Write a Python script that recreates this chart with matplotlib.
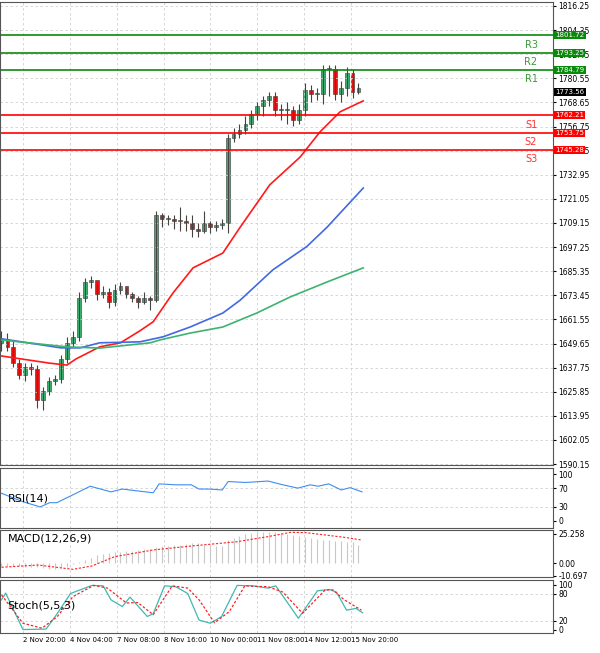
import numpy as np
import matplotlib.pyplot as plt

# 4H candles
opens = [1650, 1652, 1648, 1640, 1634, 1638, 1637, 1622, 1626, 1631, 1632, 1642, 1650, 1653,
         1672, 1680, 1681, 1674, 1675, 1670, 1676, 1678, 1674, 1672, 1670, 1672, 1671, 1713,
         1711, 1711, 1710, 1710, 1709, 1706, 1705, 1709, 1707, 1708, 1709, 1751, 1753, 1755,
         1758, 1763, 1767, 1770, 1772, 1765, 1765, 1765, 1760, 1765, 1775, 1773, 1773, 1785,
         1785, 1773, 1776, 1783, 1774]
closes = [1652, 1648, 1640, 1634, 1638, 1637, 1622, 1626, 1631, 1632, 1642, 1650, 1653, 1672,
          1680, 1681, 1674, 1675, 1670, 1676, 1678, 1674, 1672, 1670, 1672, 1671, 1713, 1711,
          1711, 1710, 1710, 1709, 1706, 1705, 1709, 1707, 1708, 1709, 1751, 1753, 1755, 1758,
          1763, 1767, 1770, 1772, 1765, 1765, 1765, 1760, 1765, 1775, 1773, 1773, 1785, 1785,
          1773, 1776, 1783, 1774, 1776]
highs = [1656, 1655, 1651, 1642, 1640, 1640, 1639, 1628, 1633, 1634, 1644, 1653, 1656, 1675,
         1682, 1683, 1679, 1678, 1677, 1679, 1680, 1677, 1675, 1673, 1675, 1673, 1715, 1714,
         1713, 1713, 1717, 1713, 1713, 1709, 1715, 1710, 1710, 1711, 1753, 1756, 1758, 1762,
         1765, 1769, 1772, 1774, 1774, 1768, 1769, 1767, 1768, 1778, 1777, 1776, 1787, 1787,
         1787, 1779, 1786, 1785, 1778]
lows = [1646, 1646, 1638, 1632, 1631, 1634, 1618, 1617, 1624, 1629, 1630, 1640, 1648, 1651,
        1670, 1677, 1671, 1672, 1667, 1668, 1674, 1672, 1670, 1667, 1669, 1666, 1670, 1707,
        1708, 1706, 1705, 1705, 1702, 1702, 1704, 1704, 1705, 1706, 1704, 1749, 1751, 1753,
        1756, 1760, 1762, 1767, 1762, 1760, 1758, 1757, 1758, 1762, 1769, 1770, 1768, 1772,
        1770, 1769, 1772, 1771, 1773]

# moving averages, read as (bar index, value)
ma_red_x = [0, 8, 11, 12.5, 16.5, 20, 23.3, 25.5, 28.8, 32.2, 37.2, 40.1, 45.1, 50.2, 53.5, 56.9, 60.8]
ma_red_y = [1643.5, 1640, 1639, 1642, 1648, 1650, 1656, 1660.4, 1674.5, 1687, 1694.3, 1707,
            1728, 1741.7, 1754, 1764, 1769.4]
ma_blue_x = [0, 10, 13.2, 16.5, 23.3, 27.2, 31.7, 37.2, 40.1, 45.6, 51.3, 54.7, 60.8]
ma_blue_y = [1652, 1647.5, 1647.5, 1650, 1650.5, 1653, 1657.8, 1664.7, 1671, 1686, 1697.5,
             1707, 1726.4]
ma_green_x = [0, 11, 16.5, 25, 26.6, 31.7, 37.2, 42.9, 48.5, 54.7, 60.8]
ma_green_y = [1651.4, 1648, 1647.4, 1650, 1651.4, 1654.8, 1657.8, 1664.7, 1672.6, 1680, 1687]

rsi_x = [0, 3.6, 6.5, 8.1, 9.3, 12.7, 14.9, 18.4, 20.3, 25.5, 26.5, 29.3, 31.9, 33.2, 35,
         37.1, 38.1, 41, 44.8, 47.3, 49.8, 51.9, 53.2, 55, 57.1, 58.6, 60.6]
rsi_y = [59, 41, 30, 39, 39, 60, 74, 62, 68, 60, 79, 77, 77, 68, 68, 66, 84, 82, 85, 77, 70,
         77, 74, 79, 66, 71, 62]

macd_hist = [-2, -2, -2, -2.5, -3, -3, -3.5, -4, -4.5, -4.5, -4, -3.5, -1, 1, 3, 5, 7, 8, 9,
             9.5, 10, 10.5, 11, 11.5, 12, 12.5, 13.8, 14.5, 15, 15.5, 16, 16.5, 17.5, 17.8, 16,
             15, 15, 14.9, 20, 22, 23.5, 25, 26, 26.7, 27, 27.3, 27, 26, 25, 24, 23.5, 22.5,
             22, 21, 20.5, 20, 19.5, 19, 18.5, 18, 16]
macd_sig_x = [0, 6.2, 12, 15.2, 19, 25.5, 31.9, 39.6, 44.8, 48.6, 51.2, 57.6, 60.5]
macd_sig_y = [-3.4, -1.5, -5.2, -2.3, 5.7, 11.5, 14.9, 18.6, 23, 26.7, 26.4, 22.4, 20.1]

stoch_k_x = [0, 0.7, 3.6, 7.5, 9.4, 11.6, 15.2, 17.1, 18.4, 20.3, 21.6, 24.5, 25.5, 27.4, 29.3,
             31.3, 33.2, 35.1, 37, 39.6, 42.2, 44.8, 46.1, 49.9, 53.1, 55.1, 56.3, 58, 59.6, 60.7]
stoch_k_y = [67, 82, 1, 2, 37, 81, 99, 98, 67, 52, 73, 30, 36, 98, 96, 81, 22, 15, 30, 99, 98,
             93, 98, 26, 87, 90, 84, 44, 48, 38]
stoch_d_x = [0, 3.6, 6.8, 9.4, 12, 15.5, 17.8, 21, 22.9, 25.5, 28.7, 31.3, 33.2, 35.8, 38.3,
             40.9, 44.8, 47.3, 50.6, 54.4, 55.7, 57.6, 60.5]
stoch_d_y = [78, 15, 4, 30, 74, 99, 93, 60, 61, 34, 98, 93, 67, 16, 41, 98, 96, 84, 37, 89, 89,
             67, 44]

levels = [1801.72, 1793.25, 1784.79, 1762.21, 1753.75, 1745.28]
level_names = ["R3", "R2", "R1", "S1", "S2", "S3"]
price_ticks = [1816.25, 1804.35, 1792.45, 1780.55, 1768.65, 1756.75, 1744.85, 1732.95,
               1721.05, 1709.15, 1697.25, 1685.35, 1673.45, 1661.55, 1649.65, 1637.75,
               1625.85, 1613.95, 1602.05, 1590.15]
last_price = 1773.56
time_labels = ["2 Nov 20:00", "4 Nov 04:00", "7 Nov 08:00", "8 Nov 16:00",
               "10 Nov 00:00", "11 Nov 08:00", "14 Nov 12:00", "15 Nov 20:00"]
time_ticks = [3.6, 11.5, 19.4, 27.3, 35.1, 43, 50.8, 58.7]

W, H = 600, 653
fig = plt.figure(figsize=(6, 6.53), dpi=100)
fig.patch.set_facecolor("white")


def ax_px(x0, y0, x1, y1):
    return fig.add_axes([x0 / W, 1 - y1 / H, (x1 - x0) / W, (y1 - y0) / H])


n = len(closes)
x = np.arange(n)
grid_kw = dict(color="#d0d0d0", ls=(0, (3, 3)), lw=0.6)
XMAX = (553 - 1.5) / 5.95


def setup(ax, ylim):
    ax.set_xlim(-0.25, XMAX)
    ax.set_ylim(*ylim)
    ax.yaxis.tick_right()
    ax.tick_params(axis="y", labelsize=5.5, length=2, pad=2)
    ax.tick_params(axis="x", length=0, labelbottom=False)
    ax.set_xticks(time_ticks)
    for sp in ax.spines.values():
        sp.set_color("#555555")
        sp.set_linewidth(0.8)


# main panel
ax = ax_px(0, 2, 553, 465)
setup(ax, (1589.7, 1818.2))
ax.set_yticks(price_ticks)
ax.set_yticklabels([f"{v:.2f}" for v in price_ticks])
ax.grid(True, **grid_kw)
for i in range(n):
    up = closes[i] >= opens[i]
    ax.vlines(x[i], lows[i], highs[i], color="#444444", lw=0.8)
    lo, hi = min(opens[i], closes[i]), max(opens[i], closes[i])
    ax.bar(x[i], max(hi - lo, 0.4), bottom=lo, width=0.65, color="#3cb371" if up else "#ee1111",
           edgecolor="#333333", lw=0.4)
ax.plot(ma_red_x, ma_red_y, color="#ff1a1a", lw=1.2)
ax.plot(ma_blue_x, ma_blue_y, color="#4169e1", lw=1.2)
ax.plot(ma_green_x, ma_green_y, color="#3cb371", lw=1.2)
for v, name in zip(levels, level_names):
    c = "#0a8a0a" if name[0] == "R" else "#ff0000"
    ax.axhline(v, color=c, lw=1.2)
    ax.text(89, v - 2.2, name, color="#3a9a3a" if name[0] == "R" else "#ff3333",
            fontsize=7, ha="center", va="top")
    ax.text(XMAX + 0.4, v, f"{v:.2f}", color="white", fontsize=5, va="center", ha="left",
            clip_on=False, zorder=5, bbox=dict(boxstyle="square,pad=0.15", fc=c, ec="none"))
ax.text(XMAX + 0.4, last_price, f"{last_price:.2f}", color="white", fontsize=5, va="center",
        ha="left", clip_on=False, zorder=5,
        bbox=dict(boxstyle="square,pad=0.15", fc="black", ec="none"))

# RSI
ax2 = ax_px(0, 468, 553, 528)
setup(ax2, (-14.9, 112.8))
ax2.set_yticks([0, 30, 70, 100])
ax2.grid(True, axis="x", **grid_kw)
for v in (30, 70):
    ax2.axhline(v, **grid_kw)
ax2.plot(rsi_x, rsi_y, color="#3d8ef0", lw=0.8)
ax2.text(1, 47, "RSI(14)", fontsize=8, va="center")

# MACD
ax3 = ax_px(0, 530, 553, 577)
setup(ax3, (-11.8, 28.7))
ax3.set_yticks([25.258, 0.0, -10.697])
ax3.set_yticklabels(["25.258", "0.00", "-10.697"])
ax3.grid(True, axis="x", **grid_kw)
ax3.vlines(x, 0, macd_hist, color="#c8c8c8", lw=0.8)
ax3.plot(macd_sig_x, macd_sig_y, color="#ff2020", lw=0.8, ls=(0, (2, 1.5)))
ax3.text(1, 21, "MACD(12,26,9)", fontsize=8, va="center")

# Stochastic
ax4 = ax_px(0, 580, 553, 633)
setup(ax4, (-6.7, 111))
ax4.set_yticks([0, 20, 80, 100])
ax4.grid(True, axis="x", **grid_kw)
for v in (20, 80):
    ax4.axhline(v, **grid_kw)
ax4.plot(stoch_k_x, stoch_k_y, color="#40b8b0", lw=0.9)
ax4.plot(stoch_d_x, stoch_d_y, color="#ff2020", lw=0.9, ls=(0, (2, 1.5)))
ax4.text(1, 55, "Stoch(5,5,3)", fontsize=8, va="center")
ax4.tick_params(axis="x", labelbottom=True, labelsize=5, pad=3)
ax4.set_xticklabels(time_labels, ha="left")

fig.savefig("out.png", dpi=100)
